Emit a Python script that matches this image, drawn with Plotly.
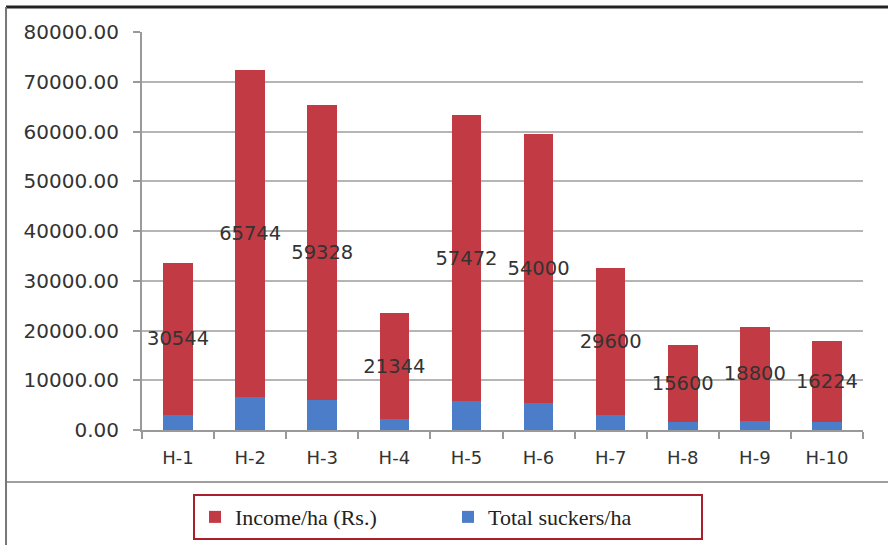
import plotly.graph_objects as go

categories = ["H-1", "H-2", "H-3", "H-4", "H-5", "H-6", "H-7", "H-8", "H-9", "H-10"]
income = [30544, 65744, 59328, 21344, 57472, 54000, 29600, 15600, 18800, 16224]
suckers = [3054, 6574, 5933, 2134, 5747, 5400, 2960, 1560, 1880, 1622]
y_ticks = [0, 10000, 20000, 30000, 40000, 50000, 60000, 70000, 80000]

RED = "#C23A43"
BLUE = "#4B7DC9"

fig = go.Figure()
fig.add_trace(go.Bar(
    x=categories, y=suckers, name="Total suckers/ha",
    marker=dict(color=BLUE, line=dict(width=0)),
    hoverinfo="skip",
))
fig.add_trace(go.Bar(
    x=categories, y=income, name="Income/ha (Rs.)",
    marker=dict(color=RED, line=dict(width=0)),
    text=[str(v) for v in income],
    textposition="inside", insidetextanchor="middle",
    constraintext="none", textangle=0,
    insidetextfont=dict(family="DejaVu Sans", size=19.5, color="#333333"),
    hoverinfo="skip",
))

fig.update_layout(
    width=888, height=545,
    barmode="stack", bargap=0.59,
    paper_bgcolor="white", plot_bgcolor="white",
    margin=dict(l=142, r=25, t=32, b=115, autoexpand=False),
    showlegend=True,
    legend=dict(
        orientation="h", traceorder="reversed",
        x=0.4244, xanchor="center", y=-0.161, yanchor="top",
        font=dict(family="Liberation Serif", size=22, color="#222222"),
        bordercolor="#A8202C", borderwidth=2, bgcolor="white",
        entrywidth=208, entrywidthmode="pixels",
    ),
    font=dict(family="DejaVu Sans", color="#333333"),
)
fig.update_xaxes(
    type="category", tickson="boundaries", ticks="outside", ticklen=7,
    tickcolor="#999999", tickwidth=2,
    showline=True, linecolor="#999999", linewidth=2,
    tickfont=dict(size=18, color="#333333"),
    ticklabelstandoff=10,
    showgrid=False,
)
fig.update_yaxes(
    range=[0, 80000], tickvals=y_ticks,
    ticktext=[f"{v:.2f}" for v in y_ticks],
    ticks="outside", ticklen=7, tickcolor="#999999", tickwidth=2,
    showline=True, linecolor="#999999", linewidth=2,
    showgrid=True, gridcolor="#B5B5B5", gridwidth=2,
    zeroline=False,
    tickfont=dict(size=20, color="#333333"),
    ticklabelstandoff=10,
)

# frame and separator
fig.add_shape(type="line", xref="paper", yref="paper",
              x0=-0.19, x1=1.04, y0=-0.1307, y1=-0.1307,
              line=dict(color="#A0A0A0", width=2))
fig.add_shape(type="line", xref="paper", yref="paper",
              x0=-0.1886, x1=1.04, y0=1.0628, y1=1.0628,
              line=dict(color="#222222", width=3))
fig.add_shape(type="line", xref="paper", yref="paper",
              x0=-0.1886, x1=-0.1886, y0=1.0628, y1=-0.3,
              line=dict(color="#777777", width=2))

fig.write_html("out.html", config={"displayModeBar": False},
               post_script="document.body.style.margin='0';document.body.style.overflow='hidden';")
